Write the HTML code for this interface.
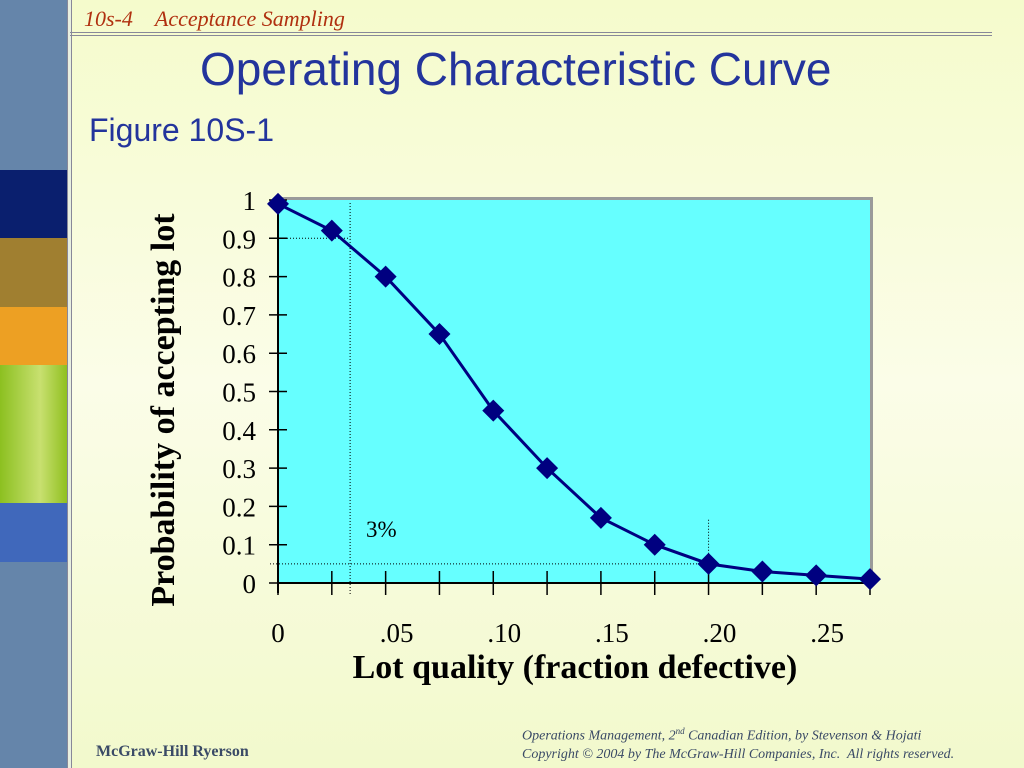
<!DOCTYPE html>
<html><head><meta charset="utf-8"><style>
body{margin:0;width:1024px;height:768px;overflow:hidden;position:relative;background:linear-gradient(#f5fbcc,#fbfde8 50%,#f2f9cc);font-family:"Liberation Sans",sans-serif}
.blk{position:absolute;left:0;width:67px}
.t{position:absolute;white-space:nowrap}
</style></head><body>
<div class="blk" style="top:0;height:768px;background:#6585aa"></div>
<div class="blk" style="top:170px;height:68px;background:#0a1f6e"></div>
<div class="blk" style="top:238px;height:69px;background:#a07f30"></div>
<div class="blk" style="top:307px;height:58px;background:#eda023"></div>
<div class="blk" style="top:365px;height:138px;background:linear-gradient(90deg,#8cc020,#c8e070 60%,#90c020)"></div>
<div class="blk" style="top:503px;height:59px;background:#4068bb"></div>
<div style="position:absolute;left:67px;top:0;width:3px;height:768px;background:#e8efe0;border-left:1px solid #889;border-right:1px solid #889"></div>
<div style="position:absolute;left:70px;top:32px;width:922px;height:2px;border-top:1px solid #889;border-bottom:1px solid #889"></div>
<div class="t" style="left:84px;top:6px;font:italic 22px 'Liberation Serif',serif;color:#b03010">10s-4 &nbsp;&nbsp;&nbsp;Acceptance Sampling</div>
<div class="t" style="left:200px;top:42px;font-size:46px;color:#23349c">Operating Characteristic Curve</div>
<div class="t" style="left:89px;top:112px;font-size:32px;color:#23349c">Figure 10S-1</div>
<div class="t" style="left:96px;top:743px;font:bold 16px 'Liberation Serif',serif;color:#3a4a66">McGraw-Hill Ryerson</div>
<div class="t" style="left:522px;top:722px;font:italic 14px/18px 'Liberation Serif',serif;color:#3a4a66">Operations Management, 2<sup style="font-size:9px">nd</sup> Canadian Edition, by Stevenson &amp; Hojati<br>Copyright © 2004 by The McGraw-Hill Companies, Inc.&nbsp; All rights reserved.</div>
<svg id="chart" width="1024" height="768" style="position:absolute;left:0;top:0" font-family="Liberation Serif, serif"></svg>
<script>
const xValues=[0,0.025,0.05,0.075,0.10,0.125,0.15,0.175,0.20,0.225,0.25,0.275];
const paValues=[0.99,0.92,0.80,0.65,0.45,0.30,0.17,0.10,0.05,0.03,0.02,0.01];
const yTicks=[0,0.1,0.2,0.3,0.4,0.5,0.6,0.7,0.8,0.9,1];
const yTickLabels=["0","0.1","0.2","0.3","0.4","0.5","0.6","0.7","0.8","0.9","1"];
const xLabelValues=[0,0.05,0.10,0.15,0.20,0.25];
const xLabels=["0",".05",".10",".15",".20",".25"];
const X0=278,X1=870,Y0=583,Y1=200;
const sx=v=>X0+v/0.275*(X1-X0);
const sy=v=>Y0-v*(Y0-Y1);
const svg=document.getElementById('chart');
const NS='http://www.w3.org/2000/svg';
function mk(tag,attrs){const e=document.createElementNS(NS,tag);for(const k in attrs)e.setAttribute(k,attrs[k]);svg.appendChild(e);return e;}
let e;
e=mk('rect',{x:X0+3,y:Y1-3,width:X1-X0,height:Y0-Y1,fill:'#9a9a9a'});


e=mk('rect',{x:X0,y:Y1,width:X1-X0,height:Y0-Y1,fill:'#66ffff'});


e=mk('polyline',{points:`${X0},${sy(0.9)} ${sx(0.0335)},${sy(0.9)}`,stroke:'#000','stroke-width':1,'stroke-dasharray':'1,2',fill:'none'});


e=mk('polyline',{points:`${sx(0.0335)},${Y1+3} ${sx(0.0335)},${Y0+12}`,stroke:'#000','stroke-width':1,'stroke-dasharray':'1,2',fill:'none'});


e=mk('polyline',{points:`${X0-8},${sy(0.05)} ${sx(0.20)},${sy(0.05)}`,stroke:'#000','stroke-width':1,'stroke-dasharray':'1,2',fill:'none'});


e=mk('polyline',{points:`${sx(0.20)},${sy(0.165)} ${sx(0.20)},${Y0+8}`,stroke:'#000','stroke-width':1,'stroke-dasharray':'1,2',fill:'none'});


e=mk('line',{x1:X0,y1:Y1,x2:X0,y2:Y0+10,stroke:'#000','stroke-width':2});


e=mk('line',{x1:X0,y1:Y0,x2:X1,y2:Y0,stroke:'#000','stroke-width':2});


yTicks.forEach((v,i)=>{
 e=mk('line',{x1:X0-9,y1:sy(v),x2:X0+9,y2:sy(v),stroke:'#000','stroke-width':1.5});
 
 
 e=mk('text',{x:X0-22,y:sy(v)+10,'text-anchor':'end','font-size':27});
 e.textContent=yTickLabels[i];
 
 
});
xValues.forEach(v=>{
 e=mk('line',{x1:sx(v),y1:Y0-12,x2:sx(v),y2:Y0+12,stroke:'#000','stroke-width':1.5});
 
 
});
xLabelValues.forEach((v,i)=>{
 e=mk('text',{x:sx(v)+(i?11:0),y:642,'text-anchor':'middle','font-size':27});
 e.textContent=xLabels[i];
 
 
});
e=mk('polyline',{points:xValues.map((v,i)=>`${sx(v)},${sy(paValues[i])}`).join(' '),stroke:'#000080','stroke-width':3,fill:'none'});


xValues.forEach((v,i)=>{
 const cx=sx(v),cy=sy(paValues[i]);
 e=mk('polygon',{points:`${cx},${cy-11} ${cx+11},${cy} ${cx},${cy+11} ${cx-11},${cy}`,fill:'#000080'});
 
 
});
e=mk('text',{x:366,y:537,'font-size':23});
e.textContent='3%';


e=mk('text',{x:575,y:678,'text-anchor':'middle','font-size':34,'font-weight':'bold'});
e.textContent='Lot quality (fraction defective)';


e=mk('text',{x:0,y:0,'text-anchor':'middle','font-size':34,'font-weight':'bold',transform:'translate(174,410) rotate(-90)'});
e.textContent='Probability of accepting lot';


</script>
</body></html>
